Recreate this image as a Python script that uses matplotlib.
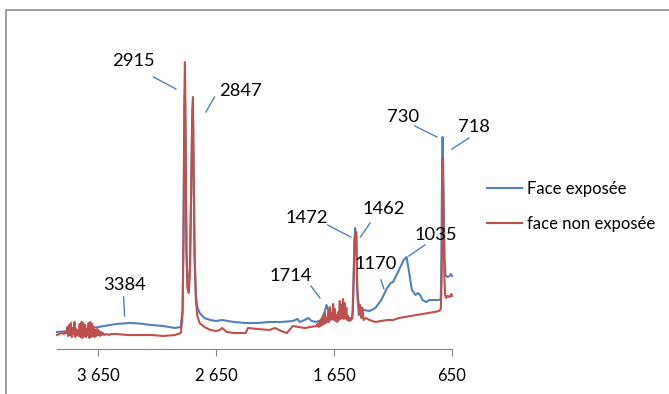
import matplotlib
matplotlib.use("Agg")
import matplotlib.pyplot as plt
from matplotlib.patches import Rectangle

# ---------------- data ----------------
wn_exp = [4000, 3900, 3800, 3700, 3600, 3500, 3384, 3300, 3200, 3100, 3000, 2950,
          2935, 2927, 2920, 2915, 2910, 2902, 2893, 2882, 2872, 2862, 2853, 2847,
          2841, 2833, 2822, 2810, 2790, 2750, 2700, 2650, 2600, 2500, 2400, 2300,
          2200, 2100, 2000, 1960, 1940, 1900, 1870, 1840, 1800, 1760, 1730, 1714,
          1700, 1680, 1650, 1600, 1550, 1500, 1490, 1480, 1472, 1466, 1462, 1455,
          1440, 1400, 1350, 1300, 1250, 1200, 1170, 1150, 1100, 1060, 1035, 1010,
          990, 960, 940, 920, 900, 870, 840, 800, 760, 745, 740, 735, 730, 726,
          722, 718, 712, 705, 690, 670, 660, 650]
abs_exp = [0.17, 0.18, 0.19, 0.21, 0.23, 0.25, 0.26, 0.255, 0.24, 0.23, 0.21, 0.22,
           0.40, 1.10, 2.30, 2.55, 2.00, 0.95, 0.62, 0.60, 0.85, 1.60, 2.30, 2.35,
           1.70, 0.95, 0.55, 0.42, 0.36, 0.31, 0.29, 0.28, 0.29, 0.27, 0.26, 0.26,
           0.27, 0.27, 0.28, 0.30, 0.27, 0.29, 0.31, 0.28, 0.27, 0.29, 0.37, 0.44,
           0.39, 0.34, 0.32, 0.31, 0.31, 0.31, 0.39, 0.89, 1.21, 1.09, 1.13, 0.59,
           0.44, 0.39, 0.38, 0.41, 0.49, 0.61, 0.66, 0.67, 0.79, 0.89, 0.92, 0.74,
           0.59, 0.54, 0.56, 0.54, 0.49, 0.47, 0.49, 0.49, 0.49, 0.50, 0.89, 1.69,
           2.12, 1.89, 1.59, 1.29, 0.89, 0.74, 0.72, 0.73, 0.75, 0.73]

wn_non = [4000, 3980, 3960, 3940, 3930, 3920, 3912, 3905, 3898, 3890, 3882, 3875,
          3868, 3860, 3852, 3845, 3838, 3830, 3822, 3815, 3808, 3800, 3792, 3785,
          3778, 3770, 3762, 3755, 3748, 3740, 3732, 3725, 3718, 3710, 3702, 3695,
          3688, 3680, 3672, 3665, 3658, 3650, 3642, 3635, 3628, 3620, 3610, 3600,
          3580, 3560, 3540, 3500, 3400, 3300, 3200, 3100, 3000, 2950, 2935, 2927,
          2920, 2915, 2910, 2902, 2893, 2882, 2872, 2862, 2853, 2847, 2841, 2833,
          2822, 2810, 2790, 2750, 2700, 2650, 2620, 2600, 2560, 2500, 2450, 2400,
          2380, 2300, 2200, 2150, 2100, 2050, 2000, 1950, 1900, 1850, 1800, 1790,
          1780, 1772, 1765, 1758, 1750, 1743, 1736, 1729, 1722, 1715, 1708, 1700,
          1693, 1686, 1679, 1672, 1665, 1658, 1651, 1644, 1637, 1630, 1623, 1616,
          1609, 1602, 1595, 1588, 1581, 1574, 1567, 1560, 1553, 1546, 1539, 1532,
          1525, 1515, 1505, 1495, 1485, 1478, 1472, 1465, 1462, 1456, 1450, 1440,
          1430, 1420, 1410, 1400, 1380, 1350, 1300, 1250, 1200, 1150, 1100, 1050,
          1000, 950, 900, 850, 800, 760, 745, 738, 733, 730, 726, 720, 714, 708,
          700, 690, 670, 655, 650]
abs_non = [0.14, 0.15, 0.16, 0.15, 0.17, 0.16, 0.22, 0.13, 0.24, 0.14, 0.26, 0.12,
           0.21, 0.15, 0.27, 0.12, 0.20, 0.14, 0.18, 0.13, 0.25, 0.12, 0.27, 0.11,
           0.26, 0.13, 0.24, 0.12, 0.20, 0.14, 0.26, 0.11, 0.27, 0.12, 0.25, 0.13,
           0.22, 0.12, 0.19, 0.13, 0.20, 0.14, 0.18, 0.13, 0.17, 0.14, 0.16, 0.14,
           0.15, 0.14, 0.15, 0.15, 0.14, 0.14, 0.14, 0.13, 0.14, 0.16, 0.35, 1.20,
           2.50, 2.87, 2.30, 1.00, 0.60, 0.56, 0.80, 1.60, 2.40, 2.52, 1.80, 0.90,
           0.48, 0.33, 0.26, 0.22, 0.19, 0.18, 0.19, 0.21, 0.17, 0.16, 0.16, 0.16,
           0.21, 0.20, 0.19, 0.21, 0.18, 0.16, 0.23, 0.22, 0.21, 0.22, 0.23, 0.25,
           0.22, 0.28, 0.23, 0.30, 0.24, 0.33, 0.25, 0.36, 0.26, 0.31, 0.27, 0.38,
           0.27, 0.42, 0.29, 0.36, 0.30, 0.45, 0.29, 0.40, 0.28, 0.34, 0.27, 0.37,
           0.29, 0.48, 0.30, 0.44, 0.31, 0.50, 0.30, 0.46, 0.32, 0.41, 0.29, 0.33,
           0.28, 0.30, 0.29, 0.31, 0.69, 1.09, 1.14, 1.14, 1.17, 0.79, 0.49, 0.34,
           0.44, 0.31, 0.41, 0.29, 0.31, 0.29, 0.27, 0.28, 0.29, 0.29, 0.31, 0.32,
           0.33, 0.34, 0.35, 0.36, 0.37, 0.38, 0.40, 0.69, 1.49, 1.91, 1.69, 1.09,
           0.69, 0.54, 0.51, 0.53, 0.52, 0.55, 0.53]

series_names = ["Face exposée", "face non exposée"]
tick_values = [3650, 2650, 1650, 650]
tick_labels = ["3 650", "2 650", "1 650", "650"]

peak_labels = ["2915", "2847", "730", "718", "1472", "1462", "1035", "1170", "1714", "3384"]

# ---------------- layout ----------------
label_pos = [(3351, 2.88), (2448, 2.58), (1066, 2.32), (463, 2.22), (1880, 1.31),
             (1227, 1.40), (786, 1.14), (1295, 0.85), (2016, 0.73), (3427, 0.64)]
leader = [((3181, 2.72), (2991, 2.60)), ((2664, 2.52), (2737, 2.37)),
          ((966, 2.23), (777, 2.12)), ((506, 2.11), (650, 2.00)),
          ((1705, 1.24), (1509, 1.12)), ((1345, 1.26), (1426, 1.12)),
          ((879, 1.04), (1017, 0.93)), ((1252, 0.69), (1227, 0.60)),
          ((1846, 0.63), (1770, 0.51)), ((3435, 0.52), (3427, 0.33))]

BLUE = "#4F81BD"
RED = "#C0504D"
FONT = ["Lato", "DejaVu Sans"]

fig = plt.figure(figsize=(6.69, 3.94), dpi=100)
fig.patches.append(Rectangle((6 / 669, -0.5), 2.0, 1.5 - 10 / 394, transform=fig.transFigure,
                             fill=False, edgecolor="#8C8C8C", linewidth=1.2))

ax = fig.add_axes([57 / 669, 1 - 349 / 394, 395 / 669, 309 / 394])
ax.plot(wn_exp, abs_exp, color=BLUE, lw=1.5, label=series_names[0], clip_on=False)
ax.plot(wn_non, abs_non, color=RED, lw=1.5, label=series_names[1], clip_on=False)
ax.set_xlim(4000, 650)
ax.set_ylim(0, 3.09)

for s in ["top", "right", "left"]:
    ax.spines[s].set_visible(False)
ax.spines["bottom"].set_color("#868686")
ax.set_yticks([])
ax.set_xticks(tick_values)
ax.set_xticklabels(tick_labels, family=FONT, fontsize=12)
ax.tick_params(axis="x", direction="out", length=5, color="#868686", pad=9)

for txt, pos, ((x0, y0), (x1, y1)) in zip(peak_labels, label_pos, leader):
    ax.text(pos[0], pos[1], txt, ha="center", va="center", fontsize=13.2,
            family=FONT, clip_on=False)
    ax.plot([x0, x1], [y0, y1], color=BLUE, lw=1.0, clip_on=False)

leg = fig.legend(loc="upper left", bbox_to_anchor=(487 / 669, 1 - 181 / 394),
                 frameon=False, prop={"family": FONT, "size": 12},
                 handlelength=2.1, handletextpad=0.3, labelspacing=1.15,
                 borderpad=0, borderaxespad=0)

fig.savefig("out.png", dpi=100)
